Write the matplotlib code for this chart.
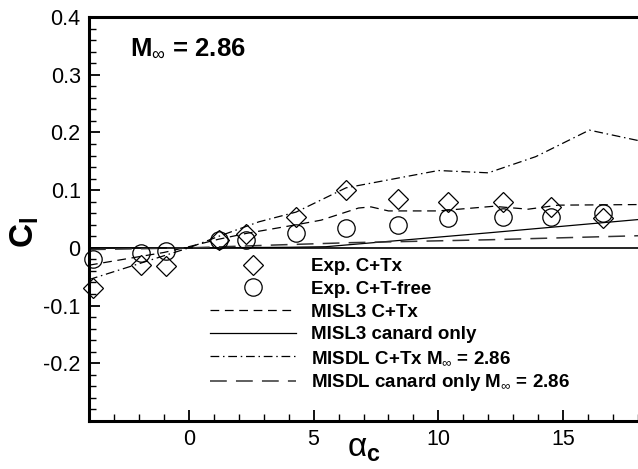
import numpy as np
import matplotlib
matplotlib.use("Agg")
import matplotlib.pyplot as plt
from matplotlib.ticker import MultipleLocator, FuncFormatter

plt.rcParams['font.family'] = ['Liberation Sans', 'DejaVu Sans']
plt.rcParams['mathtext.fontset'] = 'custom'
plt.rcParams['mathtext.rm'] = 'Liberation Sans'
plt.rcParams['mathtext.bf'] = 'Liberation Sans:bold'
plt.rcParams['mathtext.it'] = 'Liberation Sans'

# experiments
alpha_exp = [-3.85, -1.9, -0.9, 1.2, 2.3, 4.3, 6.3, 8.4, 10.4, 12.6, 14.5, 16.6]
cl_ctx = [-0.069, -0.030, -0.031, 0.014, 0.024, 0.054, 0.100, 0.085, 0.080, 0.080, 0.071, 0.052]
cl_free = [-0.019, -0.009, -0.005, 0.013, 0.014, 0.025, 0.034, 0.040, 0.051, 0.054, 0.054, 0.060]

# MISL3 C+Tx
a_misl3_tx = [-4, -1, 0, 1.2, 2.3, 4.3, 5.3, 6.8, 7.3, 8.0, 10, 12.2, 13.6, 14.8, 18]
cl_misl3_tx = [-0.030, -0.008, 0.002, 0.015, 0.025, 0.040, 0.048, 0.069, 0.071, 0.064,
               0.064, 0.072, 0.067, 0.074, 0.075]
# MISL3 canard only
a_misl3_c = [-4, 0, 4, 5.5, 12, 18]
cl_misl3_c = [0.0, 0.0, 0.001, 0.002, 0.026, 0.049]
# MISDL C+Tx
a_misdl_tx = [-4, 0, 1.2, 2.8, 4.3, 6.3, 10, 12, 13.9, 16.05, 18]
cl_misdl_tx = [-0.055, 0.0, 0.020, 0.045, 0.062, 0.104, 0.134, 0.130, 0.158, 0.204, 0.186]
# MISDL canard only
a_misdl_c = [-4, 0, 3.5, 6.5, 12, 18]
cl_misdl_c = [-0.003, 0.0, 0.005, 0.009, 0.014, 0.021]

fig = plt.figure(figsize=(6.38, 4.69), dpi=100)
ax = fig.add_axes([89/638, 48/469, 549/638, 404/469])

ax.plot(a_misl3_tx, cl_misl3_tx, color='black', lw=0.9, dashes=(7, 4.5),
        label='MISL3 C+Tx')
ax.plot(a_misl3_c, cl_misl3_c, color='black', lw=0.9, ls='-',
        label='MISL3 canard only')
ax.plot(a_misdl_tx, cl_misdl_tx, color='black', lw=0.9, dashes=(7, 3, 1.2, 3),
        label=r'MISDL C+Tx M$_{\infty}$ = 2.86')
ax.plot(a_misdl_c, cl_misdl_c, color='#333333', lw=1.1, dashes=(11, 6),
        label=r'MISDL canard only M$_{\infty}$ = 2.86')
ax.plot(alpha_exp, cl_ctx, ls='none', marker='D', ms=10, mfc='none', mec='black',
        mew=0.9, clip_on=False, label='Exp. C+Tx')
ax.plot(alpha_exp, cl_free, ls='none', marker='o', ms=12.5, mfc='none', mec='black',
        mew=0.9, clip_on=False, label='Exp. C+T-free')

ax.axhline(0, color='black', lw=1.2, zorder=1)

ax.set_xlim(-4, 18)
ax.set_ylim(-0.3, 0.4)
ax.set_xticks([0, 5, 10, 15])
ax.set_yticks([-0.2, -0.1, 0, 0.1, 0.2, 0.3, 0.4])
ax.xaxis.set_minor_locator(MultipleLocator(1))
ax.yaxis.set_minor_locator(MultipleLocator(0.02))
ax.yaxis.set_major_formatter(FuncFormatter(lambda v, p: '0' if abs(v) < 1e-9 else f'{v:.1f}'))
ax.tick_params(which='major', direction='in', length=8, width=1.3, labelsize=15.5, pad=6,
               top=False, right=False)
ax.tick_params(which='minor', direction='in', length=5, width=1.0, top=False, right=False)
for s in ['left', 'bottom', 'top']:
    ax.spines[s].set_linewidth(2.2)
ax.spines['right'].set_visible(False)

handles, labels = ax.get_legend_handles_labels()
order = [4, 5, 0, 1, 2, 3]
leg = ax.legend([handles[i] for i in order], [labels[i] for i in order],
                loc='upper left', bbox_to_anchor=(210/638, 1 - 258/469),
                bbox_transform=fig.transFigure, frameon=False, numpoints=1,
                handlelength=4.6, handletextpad=0.8, labelspacing=0.3,
                borderpad=0, borderaxespad=0, prop={'size': 13.5, 'weight': 'bold'})

ax.text(0.075, 0.925, r'M$_{\infty}$ = 2.86', transform=ax.transAxes, fontsize=18.5,
        fontweight='bold', va='center', ha='left')

fig.text(25/638, 1 - 232/469, r'C$_\mathregular{l}$', rotation=90, fontsize=24,
         fontweight='bold', ha='center', va='center')
fig.text(364/638, 1 - 448/469, r'$\alpha_\mathbf{c}$', fontsize=24, ha='center', va='center')

fig.savefig('out.png', dpi=100)
